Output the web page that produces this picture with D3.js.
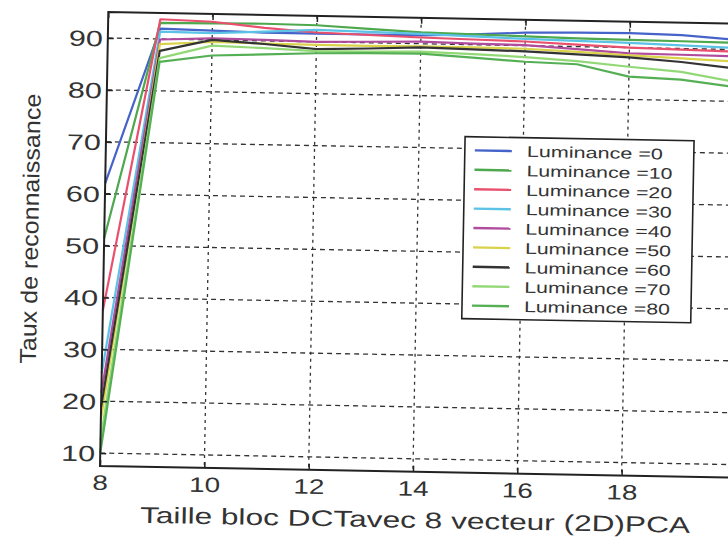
<!DOCTYPE html>
<html>
<head>
<meta charset="utf-8">
<script src="https://cdn.jsdelivr.net/npm/d3@7"></script>
<style>
  html, body { margin: 0; padding: 0; background: #ffffff; }
  svg { display: block; }
  text { font-family: "Liberation Sans", Arial, sans-serif; fill: #333; }
</style>
</head>
<body>
<script>
// ---------- data ----------
const xValues = [8, 9, 10, 11, 12, 13, 14, 15, 16, 17, 18, 19, 20];
const xTicks = [8, 10, 12, 14, 16, 18];
const yTicks = [10, 20, 30, 40, 50, 60, 70, 80, 90];
const seriesNames = ["Luminance =0", "Luminance =10", "Luminance =20", "Luminance =30", "Luminance =40",
                     "Luminance =50", "Luminance =60", "Luminance =70", "Luminance =80"];
const lum0  = [62.0, 92.0, 91.8, 91.6, 91.6, 91.6, 91.6, 92.0, 92.5, 92.7, 92.8, 92.6, 91.9];
const lum10 = [51.4, 93.1, 93.2, 93.3, 93.2, 92.7, 92.2, 92.0, 91.8, 91.6, 91.5, 91.4, 91.3];
const lum20 = [37.5, 93.8, 93.5, 92.5, 91.8, 91.5, 91.2, 91.0, 90.8, 90.4, 90.0, 89.8, 89.6];
const lum30 = [25.4, 91.4, 91.3, 91.8, 92.3, 92.1, 91.9, 91.6, 91.3, 91.1, 90.9, 90.6, 90.3];
const lum40 = [21.6, 89.9, 90.3, 90.2, 90.0, 90.2, 90.4, 90.2, 90.1, 89.5, 88.9, 88.8, 88.7];
const lum50 = [16.4, 89.0, 89.6, 89.5, 89.4, 89.4, 89.5, 89.5, 89.4, 89.0, 88.5, 88.1, 87.7];
const lum60 = [18.9, 87.7, 90.0, 89.4, 88.6, 88.9, 89.3, 89.1, 88.9, 88.5, 88.1, 87.4, 86.4];
const lum70 = [12.5, 86.3, 88.9, 88.6, 88.2, 88.3, 88.5, 88.2, 87.8, 87.2, 86.3, 85.5, 83.8];
const lum80 = [10.0, 85.6, 87.0, 87.4, 87.8, 88.0, 88.1, 87.5, 86.9, 86.6, 84.4, 84.0, 82.8];
const seriesValues = [lum0, lum10, lum20, lum30, lum40, lum50, lum60, lum70, lum80];
const seriesColors = ["#4563c8", "#4ea84e", "#e8506e", "#5cc2e6", "#b04c9e", "#d9d24a", "#333333", "#93d877", "#55b055"];
const xLabel = "Taille bloc DCTavec 8 vecteur (2D)PCA";
const yLabel = "Taux de reconnaissance";

// ---------- layout ----------
const W = 728, H = 537;
const pLeft = 100, pTop = 12, pBottom = 466, pRight = 726;

const svg = d3.select("body").append("svg").attr("width", W).attr("height", H);
svg.append("rect").attr("width", W).attr("height", H).attr("fill", "#fff");
// the scanned reference is slightly tilted
const g = svg.append("g").attr("transform", `rotate(1.05,${pLeft},${pBottom})`);

const x = d3.scaleLinear().domain([8, 20]).range([pLeft, pRight]);
const y = d3.scaleLinear().domain([7.5, 95]).range([pBottom, pTop]);

// grid
g.append("g").selectAll("line").data(yTicks).join("line")
  .attr("x1", pLeft).attr("x2", pRight + 20)
  .attr("y1", d => y(d)).attr("y2", d => y(d))
  .attr("stroke", "#333").attr("stroke-width", 1.3).attr("stroke-dasharray", "5,4");
g.append("g").selectAll("line").data(xTicks.filter(d => d !== 8)).join("line")
  .attr("x1", d => x(d)).attr("x2", d => x(d))
  .attr("y1", pTop).attr("y2", pBottom)
  .attr("stroke", "#333").attr("stroke-width", 1.3).attr("stroke-dasharray", "3,4");

// data lines
const line = d3.line().x((d, i) => x(xValues[i])).y(d => y(d));
g.append("g").selectAll("path").data(seriesValues).join("path")
  .attr("d", d => line(d))
  .attr("fill", "none")
  .attr("stroke", (d, i) => seriesColors[i])
  .attr("stroke-width", 2.2)
  .attr("stroke-linejoin", "round");

// axes
const axB = g.append("g").attr("transform", `translate(0,${pBottom})`)
  .call(d3.axisBottom(x).tickValues(xTicks).tickSize(-6).tickFormat(d3.format("d")));
axB.select(".domain").remove();
axB.selectAll(".tick line").attr("stroke", "#222").attr("stroke-width", 1.5);
axB.selectAll(".tick text")
  .attr("y", 24).attr("dy", 0)
  .attr("font-size", 21)
  .attr("fill", "#333")
  .attr("textLength", d => String(d).length * 15.5)
  .attr("lengthAdjust", "spacingAndGlyphs");

const axT = g.append("g").attr("transform", `translate(0,${pTop})`)
  .call(d3.axisTop(x).tickValues(xTicks).tickSize(-6).tickFormat(""));
axT.select(".domain").remove();
axT.selectAll(".tick line").attr("stroke", "#222").attr("stroke-width", 1.5);

const axL = g.append("g").attr("transform", `translate(${pLeft},0)`)
  .call(d3.axisLeft(y).tickValues(yTicks).tickSize(-6).tickPadding(5).tickFormat(d3.format("d")));
axL.select(".domain").remove();
axL.selectAll(".tick line").attr("stroke", "#222").attr("stroke-width", 1.5);
axL.selectAll(".tick text")
  .attr("dy", "0.36em")
  .attr("font-size", 22)
  .attr("fill", "#333")
  .attr("textLength", 34)
  .attr("lengthAdjust", "spacingAndGlyphs");

// frame
g.append("path")
  .attr("d", `M${pRight + 20},${pTop}H${pLeft}V${pBottom}H${pRight + 20}`)
  .attr("fill", "none").attr("stroke", "#222").attr("stroke-width", 2);

// axis titles
g.append("text")
  .attr("x", 416).attr("y", 522)
  .attr("text-anchor", "middle")
  .attr("font-size", 22.5)
  .attr("textLength", 550).attr("lengthAdjust", "spacingAndGlyphs")
  .text(xLabel);
g.append("text")
  .attr("transform", "translate(34,230) rotate(-90)")
  .attr("text-anchor", "middle")
  .attr("font-size", 23)
  .attr("textLength", 270).attr("lengthAdjust", "spacingAndGlyphs")
  .text(yLabel);

// legend
const lg = g.append("g").attr("transform", "translate(459,130)");
lg.append("rect").attr("width", 229).attr("height", 182)
  .attr("fill", "#fff").attr("stroke", "#222").attr("stroke-width", 1.6);
const rows = lg.selectAll("g.row").data(seriesNames).join("g")
  .attr("class", "row")
  .attr("transform", (d, i) => `translate(0,${13.6 + 19.4 * i})`);
rows.append("line")
  .attr("x1", 10).attr("x2", 47).attr("y1", 0).attr("y2", 0)
  .attr("stroke", (d, i) => seriesColors[i]).attr("stroke-width", 2.4);
rows.append("text")
  .attr("x", 62).attr("y", 5.5)
  .attr("font-size", 15.5)
  .attr("fill", "#444")
  .attr("textLength", d => d.endsWith("=0") ? 136 : 146)
  .attr("lengthAdjust", "spacingAndGlyphs")
  .text(d => d);
</script>
</body>
</html>
